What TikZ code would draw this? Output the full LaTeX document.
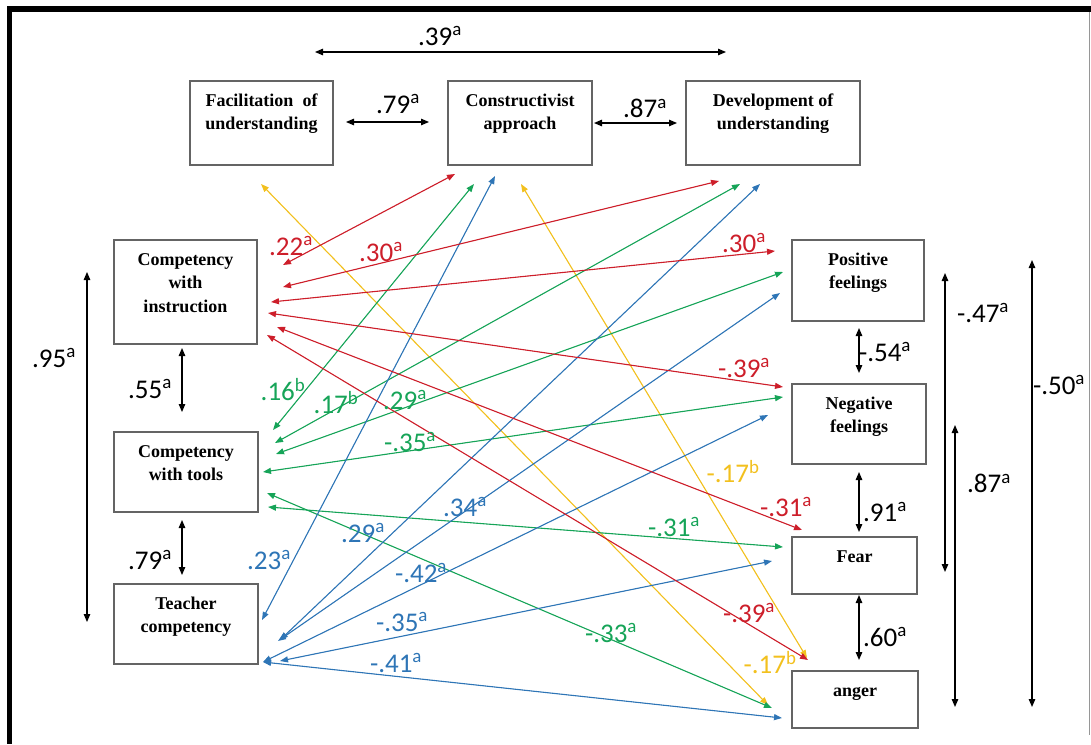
\documentclass[tikz,border=0pt]{standalone}
\usepackage{fontspec}
\setmainfont{Liberation Serif}
\newfontfamily\labfont{Carlito}
\usetikzlibrary{arrows.meta}
\definecolor{cred}{RGB}{205,30,42}
\definecolor{cgreen}{RGB}{22,164,88}
\definecolor{cblue}{RGB}{46,117,182}
\definecolor{cyellow}{RGB}{242,192,30}
\definecolor{boxgray}{RGB}{100,100,100}
\definecolor{framegray}{RGB}{150,150,150}
\newcommand{\bxt}[3]{\parbox[c][#2pt][t]{#1pt}{\centering\rule{0pt}{25pt}#3}}
\newcommand{\cv}[2]{#1\textsuperscript{#2}}
\begin{document}
\begin{tikzpicture}[x=1pt,y=-1pt,
  box/.style={draw=boxgray, line width=1.3pt, inner sep=0pt,
    font=\bfseries\fontsize{18}{23.5}\selectfont},
  lab/.style={inner sep=0pt, font=\labfont\fontsize{27}{30}\selectfont},
  blk/.style={line width=1.2pt, {Triangle[length=8pt,width=6.5pt]}-{Triangle[length=8pt,width=6.5pt]}},
  col/.style={line width=1.1pt, {Triangle[length=8pt,width=6pt]}-{Triangle[length=8pt,width=6pt]}},
  rd/.style={col, draw=cred, fill=cred},
  gr/.style={col, draw=cgreen, fill=cgreen},
  bl/.style={col, draw=cblue, fill=cblue},
  yl/.style={col, draw=cyellow, fill=cyellow}]
\useasboundingbox (0,0) rectangle (1091,744);
% frame
\fill[black] (6.5,6) rectangle (1091,12);
\fill[black] (6.5,6) rectangle (12,744);
\draw[framegray, line width=1pt] (1089.5,12) -- (1089.5,735);

% boxes
\node[box] (fac) at (261.5,123) {\bxt{143}{84}{\makebox[112pt][s]{Facilitation of}\\understanding}};
\node[box] (con) at (520,123) {\bxt{144}{84}{Constructivist\\approach}};
\node[box] (dev) at (773,123) {\bxt{174}{84}{Development of\\understanding}};
\node[box] (ci) at (185.5,292) {\bxt{143}{104}{Competency\\with\\instruction}};
\node[box] (ct) at (186,472) {\bxt{144}{80}{Competency\\with tools}};
\node[box] (tc) at (186,624) {\bxt{144}{80}{Teacher\\competency}};
\node[box] (pos) at (858,280.5) {\bxt{132}{81}{Positive\\feelings}};
\node[box] (neg) at (859,424) {\bxt{134}{80}{Negative\\feelings}};
\node[box] (fear) at (854.5,565.5) {\bxt{125}{57}{Fear}};
\node[box] (ang) at (855,699.5) {\bxt{126}{57}{anger}};

% black arrow ends
\coordinate (k39a) at (315,52);  \coordinate (k39b) at (726,52);
\coordinate (k79a) at (346,122); \coordinate (k79b) at (429,122);
\coordinate (k87a) at (594,123); \coordinate (k87b) at (677,123);
\coordinate (k95a) at (87,272);  \coordinate (k95b) at (87,622);
\coordinate (k55a) at (182,348); \coordinate (k55b) at (182,412);
\coordinate (k79c) at (182,520); \coordinate (k79d) at (182,575);
\coordinate (k54a) at (859,328); \coordinate (k54b) at (859,373);
\coordinate (k91a) at (859,472); \coordinate (k91b) at (859,532);
\coordinate (k60a) at (859,595); \coordinate (k60b) at (859,660);
\coordinate (k47a) at (945,273); \coordinate (k47b) at (945,572);
\coordinate (k87c) at (955,425); \coordinate (k87d) at (955,707);
\coordinate (k50a) at (1032,260); \coordinate (k50b) at (1032,707);

\foreach \a/\b in {k39a/k39b,k79a/k79b,k87a/k87b,k95a/k95b,k55a/k55b,k79c/k79d,k54a/k54b,k91a/k91b,k60a/k60b,k47a/k47b,k87c/k87d,k50a/k50b}
  \draw[blk] (\a) -- (\b);

% coloured arrow ends
\coordinate (y1a) at (261,184); \coordinate (y1b) at (768,705);
\coordinate (y2a) at (521,184); \coordinate (y2b) at (807,658);
\coordinate (r1a) at (283,265); \coordinate (r1b) at (455,174);
\coordinate (r2a) at (283,287); \coordinate (r2b) at (719,181);
\coordinate (r3a) at (271,302); \coordinate (r3b) at (775,251);
\coordinate (r4a) at (268,313); \coordinate (r4b) at (783,387);
\coordinate (r5a) at (277,327); \coordinate (r5b) at (802,530);
\coordinate (r6a) at (267,335); \coordinate (r6b) at (808,660);
\coordinate (g1a) at (273,430); \coordinate (g1b) at (474,184);
\coordinate (g2a) at (275,443); \coordinate (g2b) at (740,184);
\coordinate (g3a) at (276,454); \coordinate (g3b) at (783,272);
\coordinate (g4a) at (263,472); \coordinate (g4b) at (783,397);
\coordinate (g5a) at (268,507); \coordinate (g5b) at (783,547);
\coordinate (g6a) at (267,493); \coordinate (g6b) at (772,708);
\coordinate (b1a) at (262,620); \coordinate (b1b) at (495,176);
\coordinate (b2a) at (280,640); \coordinate (b2b) at (760,184);
\coordinate (b3a) at (278,641); \coordinate (b3b) at (780,293);
\coordinate (b4a) at (263,662); \coordinate (b4b) at (768,415);
\coordinate (b5a) at (280,661); \coordinate (b5b) at (772,561);
\coordinate (b6a) at (263,662); \coordinate (b6b) at (782,718);

\foreach \i in {1,2} \draw[yl] (y\i a) -- (y\i b);
\foreach \i in {1,...,6} \draw[gr] (g\i a) -- (g\i b);
\foreach \i in {1,...,6} \draw[bl] (b\i a) -- (b\i b);
\foreach \i in {1,...,6} \draw[rd] (r\i a) -- (r\i b);

% black labels
\node[lab] (l39) at (440,36) {\cv{.39}{a}};
\node[lab] (l79t) at (398,104) {\cv{.79}{a}};
\node[lab] (l87t) at (645,108) {\cv{.87}{a}};
\node[lab] (l95) at (54,358) {\cv{.95}{a}};
\node[lab] (l55) at (150,389) {\cv{.55}{a}};
\node[lab] (l79l) at (150,560) {\cv{.79}{a}};
\node[lab] (l54) at (885,352) {\cv{-.54}{a}};
\node[lab] (l91) at (885,512) {\cv{.91}{a}};
\node[lab] (l60) at (885,637) {\cv{.60}{a}};
\node[lab] (l47) at (983,313) {\cv{-.47}{a}};
\node[lab] (l87r) at (989,483) {\cv{.87}{a}};
\node[lab] (l50) at (1059,385) {\cv{-.50}{a}};
% red labels
\node[lab, text=cred] (lr1) at (291,246) {\cv{.22}{a}};
\node[lab, text=cred] (lr2) at (381,252) {\cv{.30}{a}};
\node[lab, text=cred] (lr3) at (744,243) {\cv{.30}{a}};
\node[lab, text=cred] (lr4) at (744,368) {\cv{-.39}{a}};
\node[lab, text=cred] (lr5) at (786,507) {\cv{-.31}{a}};
\node[lab, text=cred] (lr6) at (749,613) {\cv{-.39}{a}};
% green labels
\node[lab, text=cgreen] (lg1) at (283,390) {\cv{.16}{b}};
\node[lab, text=cgreen] (lg2) at (336,403) {\cv{.17}{b}};
\node[lab, text=cgreen] (lg3) at (405,400) {\cv{.29}{a}};
\node[lab, text=cgreen] (lg4) at (410,442) {\cv{-.35}{a}};
\node[lab, text=cgreen] (lg5) at (674,527) {\cv{-.31}{a}};
\node[lab, text=cgreen] (lg6) at (611,633) {\cv{-.33}{a}};
% blue labels
\node[lab, text=cblue] (lb1) at (269,560) {\cv{.23}{a}};
\node[lab, text=cblue] (lb2) at (363,533) {\cv{.29}{a}};
\node[lab, text=cblue] (lb3) at (465,507) {\cv{.34}{a}};
\node[lab, text=cblue] (lb4) at (421,573) {\cv{-.42}{a}};
\node[lab, text=cblue] (lb5) at (402,622) {\cv{-.35}{a}};
\node[lab, text=cblue] (lb6) at (396,663) {\cv{-.41}{a}};
% yellow labels
\node[lab, text=cyellow] (ly1) at (733,472) {\cv{-.17}{b}};
\node[lab, text=cyellow] (ly2) at (770,663) {\cv{-.17}{b}};
\end{tikzpicture}
\end{document}
